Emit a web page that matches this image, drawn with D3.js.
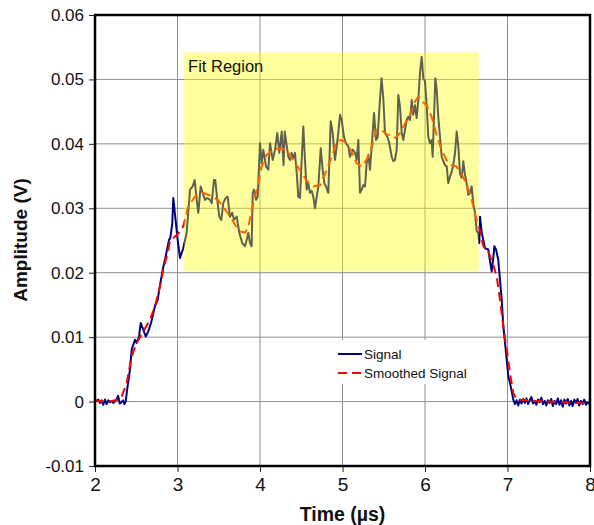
<!DOCTYPE html>
<html>
<head>
<meta charset="utf-8">
<script src="https://d3js.org/d3.v7.min.js"></script>
<style>
  body { margin: 0; background: #fff; font-family: "Liberation Sans", Arial, sans-serif; }
  .grid line { stroke: #8f8f8f; stroke-width: 1; }
  .axis text { fill: #111; }
</style>
</head>
<body>
<svg width="594" height="525"></svg>
<script>
// signal: time (us) and amplitude (V)
const sigT = [2.000,2.020,2.040,2.060,2.080,2.100,2.120,2.140,2.160,2.180,2.200,2.220,2.240,2.260,2.280,2.300,2.320,2.340,2.355,2.372,2.392,2.424,2.445,2.485,2.505,2.533,2.554,2.615,2.646,2.679,2.727,2.760,2.779,2.821,2.848,2.897,2.913,2.937,2.949,3.002,3.030,3.070,
  3.111,3.152,3.184,3.208,3.233,3.252,3.281,3.305,3.333,3.361,3.394,3.415,3.442,3.458,3.482,3.507,3.531,3.555,3.584,3.608,3.636,3.664,3.685,3.718,3.749,3.785,3.818,3.839,3.858,3.879,3.899,3.912,3.927,3.952,3.972,
  4.000,4.021,4.040,4.073,4.101,4.121,4.154,4.182,4.210,4.234,4.263,4.285,4.300,4.320,4.343,4.364,4.384,4.404,4.424,4.445,4.464,4.485,4.505,4.525,4.545,4.566,4.585,4.606,4.627,4.646,4.667,4.687,4.707,4.736,4.760,4.779,4.800,4.828,4.857,4.881,4.909,4.930,4.949,4.970,4.990,
  5.018,5.042,5.070,5.091,5.124,5.152,5.172,5.192,5.212,5.233,5.252,5.273,5.293,5.313,5.333,5.354,5.382,5.406,5.426,5.446,5.473,5.495,5.515,5.543,5.567,5.596,5.616,5.636,5.657,5.676,5.697,5.718,5.737,5.758,5.778,5.798,5.818,5.839,5.858,5.879,5.899,5.919,5.939,5.960,5.979,
  6.000,6.021,6.040,6.061,6.081,6.093,6.125,6.142,6.161,6.182,6.202,6.222,6.242,6.263,6.282,6.303,6.324,6.343,6.364,6.384,6.404,6.424,6.445,6.464,6.485,6.505,6.525,6.545,6.566,6.585,6.606,6.627,6.646,6.658,6.667,6.687,6.707,6.727,6.767,6.788,6.808,6.828,6.840,6.861,6.888,6.909,6.930,6.949,6.970,6.990,
  7.010,7.030,7.051,7.070,7.090,7.110,7.130,7.150,7.170,7.190,7.210,7.230,7.250,7.270,7.290,7.310,7.330,7.350,7.370,7.390,7.410,7.430,7.450,7.470,7.490,7.510,7.530,7.550,7.570,7.590,7.610,7.630,7.650,7.670,7.690,7.710,7.730,7.750,7.770,7.790,7.810,7.830,7.850,7.870,7.890,7.910,7.930,7.950,7.970,7.990];
const sigV = [0.0002,0.0001,0.0003,-0.0002,0.0002,-0.0005,0.0003,-0.0004,0.0002,-0.0001,0.0001,-0.0002,0.0000,0.0003,0.0009,-0.0003,-0.0001,0.0002,-0.0004,0.0000,0.0021,0.0050,0.0081,0.0096,0.0091,0.0100,0.0122,0.0101,0.0109,0.0122,0.0148,0.0158,0.0174,0.0205,0.0220,0.0251,0.0254,0.0277,0.0316,0.0251,0.0223,0.0238,
  0.0262,0.0329,0.0334,0.0344,0.0313,0.0293,0.0334,0.0324,0.0313,0.0316,0.0313,0.0308,0.0344,0.0344,0.0313,0.0287,0.0282,0.0308,0.0316,0.0318,0.0287,0.0293,0.0282,0.0287,0.0262,0.0246,0.0241,0.0251,0.0262,0.0246,0.0241,0.0324,0.0329,0.0313,0.0318,
  0.0401,0.0370,0.0391,0.0365,0.0360,0.0401,0.0375,0.0391,0.0417,0.0386,0.0419,0.0367,0.0419,0.0401,0.0380,0.0375,0.0386,0.0378,0.0386,0.0355,0.0318,0.0316,0.0375,0.0427,0.0375,0.0329,0.0339,0.0324,0.0327,0.0318,0.0300,0.0318,0.0334,0.0393,0.0360,0.0339,0.0334,0.0324,0.0435,0.0417,0.0375,0.0396,0.0417,0.0445,0.0437,
  0.0411,0.0401,0.0396,0.0380,0.0391,0.0386,0.0375,0.0406,0.0324,0.0329,0.0336,0.0334,0.0370,0.0383,0.0360,0.0396,0.0448,0.0406,0.0410,0.0453,0.0502,0.0470,0.0417,0.0411,0.0401,0.0380,0.0373,0.0375,0.0391,0.0476,0.0458,0.0417,0.0406,0.0422,0.0437,0.0442,0.0437,0.0468,0.0445,0.0460,0.0440,0.0468,0.0510,0.0535,0.0502,
  0.0497,0.0458,0.0411,0.0401,0.0406,0.0380,0.0502,0.0484,0.0442,0.0411,0.0380,0.0373,0.0367,0.0365,0.0339,0.0349,0.0357,0.0367,0.0386,0.0419,0.0396,0.0354,0.0347,0.0373,0.0352,0.0339,0.0321,0.0323,0.0334,0.0308,0.0292,0.0264,0.0262,0.0246,0.0287,0.0262,0.0251,0.0238,0.0236,0.0218,0.0202,0.0223,0.0241,0.0236,0.0220,0.0189,0.0158,0.0117,0.0091,0.0065,
  0.0039,0.0029,0.0016,0.0003,-0.0004,0.0002,-0.0006,0.0003,-0.0003,0.0004,-0.0002,0.0005,-0.0004,0.0002,0.0007,-0.0003,0.0001,-0.0005,0.0003,-0.0001,0.0006,-0.0004,0.0001,-0.0006,0.0002,-0.0002,0.0004,-0.0007,0.0001,-0.0004,0.0005,-0.0005,0.0002,-0.0008,0.0003,-0.0003,0.0004,-0.0006,0.0001,-0.0007,0.0003,-0.0002,0.0004,-0.0006,0.0001,-0.0004,0.0003,-0.0005,-0.0001,-0.0004];

// smoothed signal
const smT = [2.00,2.10,2.20,2.28,2.323,2.384,2.444,2.505,2.586,2.667,2.727,2.788,2.828,2.869,2.909,3.01,3.07,3.13,3.21,3.31,3.37,3.43,3.49,3.55,3.64,3.70,3.76,3.82,3.86,3.90,3.94,3.98,4.02,4.08,4.16,4.24,4.32,4.40,4.48,4.57,4.65,4.73,4.81,4.87,4.93,4.99,5.05,5.11,5.17,5.23,5.29,5.35,5.41,5.47,5.54,5.58,5.64,5.70,5.76,5.82,5.88,5.92,5.96,6.02,6.08,6.14,6.20,6.26,6.32,6.38,6.44,6.50,6.56,6.606,6.667,6.707,6.767,6.828,6.869,6.909,6.949,6.990,7.030,7.070,7.111,7.30,7.50,7.70,7.99];
const smV = [0.0001,0.0000,0.0001,0.0003,0.0008,0.0029,0.0070,0.0091,0.0109,0.0127,0.0148,0.0179,0.0205,0.0225,0.0249,0.0261,0.0272,0.0303,0.0318,0.0324,0.0321,0.0318,0.0313,0.0303,0.0287,0.0274,0.0264,0.0262,0.0272,0.0298,0.0318,0.0339,0.0365,0.0383,0.0391,0.0393,0.0391,0.0375,0.0360,0.0342,0.0334,0.0336,0.0360,0.0380,0.0404,0.0406,0.0401,0.0388,0.0370,0.0365,0.0375,0.0393,0.0422,0.0422,0.0414,0.0414,0.0409,0.0417,0.0432,0.0445,0.0466,0.0473,0.0466,0.0460,0.0442,0.0414,0.0391,0.0375,0.0367,0.0365,0.0354,0.0339,0.0316,0.0292,0.0264,0.0241,0.0233,0.0212,0.0194,0.0158,0.0117,0.0081,0.0044,0.0013,0.0003,0.0001,0.0000,-0.0001,-0.0003];

const xTicks = [2, 3, 4, 5, 6, 7, 8];
const yTicks = [-0.01, 0, 0.01, 0.02, 0.03, 0.04, 0.05, 0.06];
const fitRegion = [3.08, 6.65, 0.0202, 0.0542]; // t0, t1, v0, v1

const plotL = 95, plotR = 590, plotT = 15, plotB = 466;
const svg = d3.select("svg");

const x = d3.scaleLinear().domain([2, 8]).range([plotL, plotR]);
const y = d3.scaleLinear().domain([-0.01, 0.06]).range([plotB, plotT]);

// grid
const grid = svg.append("g").attr("class", "grid");
grid.selectAll(".gx").data(xTicks).enter().append("line")
    .attr("x1", d => x(d)).attr("x2", d => x(d)).attr("y1", plotT).attr("y2", plotB);
grid.selectAll(".gy").data(yTicks).enter().append("line")
    .attr("x1", plotL).attr("x2", plotR).attr("y1", d => y(d)).attr("y2", d => y(d));

// lines
const line = d3.line().x(d => x(d[0])).y(d => y(d[1]));
const sig = sigT.map((t, i) => [t, sigV[i]]);
const sm = smT.map((t, i) => [t, smV[i]]);

svg.append("path").datum(sig).attr("d", line)
    .attr("fill", "none").attr("stroke", "#000080").attr("stroke-width", 2).attr("stroke-linejoin", "round");
svg.append("path").datum(sm).attr("d", line)
    .attr("fill", "none").attr("stroke", "#ff0000").attr("stroke-width", 2).attr("stroke-dasharray", "9,5");

// fit region overlay (semi-transparent yellow on top of the lines)
svg.append("rect")
    .attr("x", x(fitRegion[0])).attr("y", y(fitRegion[3]))
    .attr("width", x(fitRegion[1]) - x(fitRegion[0]))
    .attr("height", y(fitRegion[2]) - y(fitRegion[3]))
    .attr("fill", "#ffff00").attr("opacity", 0.38);
svg.append("text").attr("x", x(fitRegion[0]) + 4).attr("y", 72)
    .attr("font-size", 16.5).attr("fill", "#111").text("Fit Region");

// axes
const xAxis = d3.axisBottom(x).tickValues(xTicks).tickSize(6).tickSizeOuter(0).tickPadding(6)
    .tickFormat(d3.format("d"));
const yAxis = d3.axisLeft(y).tickValues(yTicks).tickSize(6).tickSizeOuter(0).tickPadding(5)
    .tickFormat(d => d === 0 ? "0" : d.toFixed(2));
svg.append("g").attr("class", "axis").attr("transform", `translate(0,${plotB})`).call(xAxis)
    .call(g => g.select(".domain").remove())
    .call(g => g.selectAll("text").attr("font-size", 19));
svg.append("g").attr("class", "axis").attr("transform", `translate(${plotL},0)`).call(yAxis)
    .call(g => g.select(".domain").remove())
    .call(g => g.selectAll("text").attr("font-size", 17));
svg.selectAll(".axis .tick line").attr("stroke", "#222");

// frame
svg.append("rect").attr("x", plotL).attr("y", plotT).attr("width", plotR - plotL).attr("height", plotB - plotT)
    .attr("fill", "none").attr("stroke", "#000").attr("stroke-width", 2.5);

// legend
const lg = svg.append("g");
lg.append("rect").attr("x", 332).attr("y", 340).attr("width", 142).attr("height", 44).attr("fill", "#fff");
lg.append("line").attr("x1", 338).attr("x2", 362).attr("y1", 354).attr("y2", 354)
    .attr("stroke", "#000080").attr("stroke-width", 2);
lg.append("line").attr("x1", 338).attr("x2", 362).attr("y1", 373).attr("y2", 373)
    .attr("stroke", "#ff0000").attr("stroke-width", 2).attr("stroke-dasharray", "9,5");
lg.append("text").attr("x", 364).attr("y", 358.5).attr("font-size", 13.5).attr("fill", "#111").text("Signal");
lg.append("text").attr("x", 364).attr("y", 377.5).attr("font-size", 13.5).attr("fill", "#111").text("Smoothed Signal");

// axis titles
svg.append("text").attr("x", (plotL + plotR) / 2).attr("y", 521).attr("text-anchor", "middle")
    .attr("font-size", 19.5).attr("font-weight", "bold").attr("fill", "#111").text("Time (µs)");
svg.append("text").attr("transform", "translate(27,240) rotate(-90)").attr("text-anchor", "middle")
    .attr("font-size", 19).attr("font-weight", "bold").attr("fill", "#111").text("Amplitude (V)");
</script>
</body>
</html>
